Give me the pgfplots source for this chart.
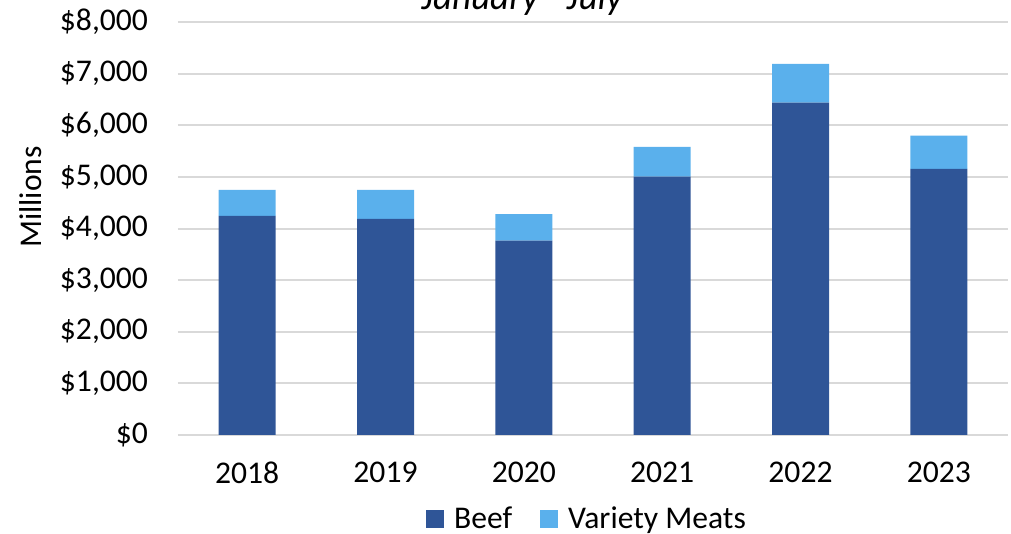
\documentclass[border=0pt]{standalone}
\usepackage{fontspec}
\setmainfont{Carlito}
\usepackage{pgfplots}
\pgfplotsset{compat=1.18}

\definecolor{beef}{HTML}{2F5597}
\definecolor{variety}{HTML}{5AB0EC}
\definecolor{gridgray}{HTML}{D9D9D9}

\begin{document}
\begin{tikzpicture}
\begin{axis}[
    scale only axis,
    width=415pt,
    height=206.5pt,
    ybar stacked,
    bar width=28.5pt,
    xmin=-0.5, xmax=5.5,
    ymin=0, ymax=8000,
    xtick={0,...,5},
    xticklabels={2018,2019,2020,2021,2022,2023},
    ytick={0,1000,...,8000},
    yticklabel={\$\pgfmathprintnumber[assume math mode=true,1000 sep={,}]{\tick}},
    ymajorgrids,
    major grid style={draw=gridgray, line width=1pt},
    axis line style={draw=none},
    tick style={draw=none},
    font=\fontsize{15.8}{18}\selectfont,
    xticklabel style={yshift=-10pt},
    yticklabel style={xshift=-11.5pt},
    ylabel={Millions},
    ylabel style={at={(rel axis cs:-0.164,0.576)}, anchor=base},
    legend columns=2,
    legend style={draw=none, at={(0.494,-0.203)}, anchor=center,
        /tikz/every odd column/.append style={column sep=3pt},
        /tikz/every even column/.append style={column sep=12pt},
        font=\fontsize{15.8}{18}\selectfont},
    legend image code/.code={\fill[#1] (0pt,-4.5pt) rectangle (9pt,4.5pt);},
]
\addplot[fill=beef, draw=none] coordinates {
(0,4244) (1,4186) (2,3766) (3,5006) (4,6440) (5,5155)
};
\addplot[fill=variety, draw=none] coordinates {
(0,504) (1,562) (2,511) (3,575) (4,750) (5,645)
};
\legend{Beef, Variety Meats}
\coordinate (O) at (rel axis cs:0,0);
\end{axis}
\node[anchor=base, font=\fontsize{18.5}{22}\selectfont\itshape]
    at ([xshift=172pt,yshift=212.75pt]O) {January - July};
\pgfresetboundingbox
\path[use as bounding box] ([xshift=-89pt,yshift=-49.5pt]O) rectangle ++(505.5pt,267pt);
\end{tikzpicture}
\end{document}
